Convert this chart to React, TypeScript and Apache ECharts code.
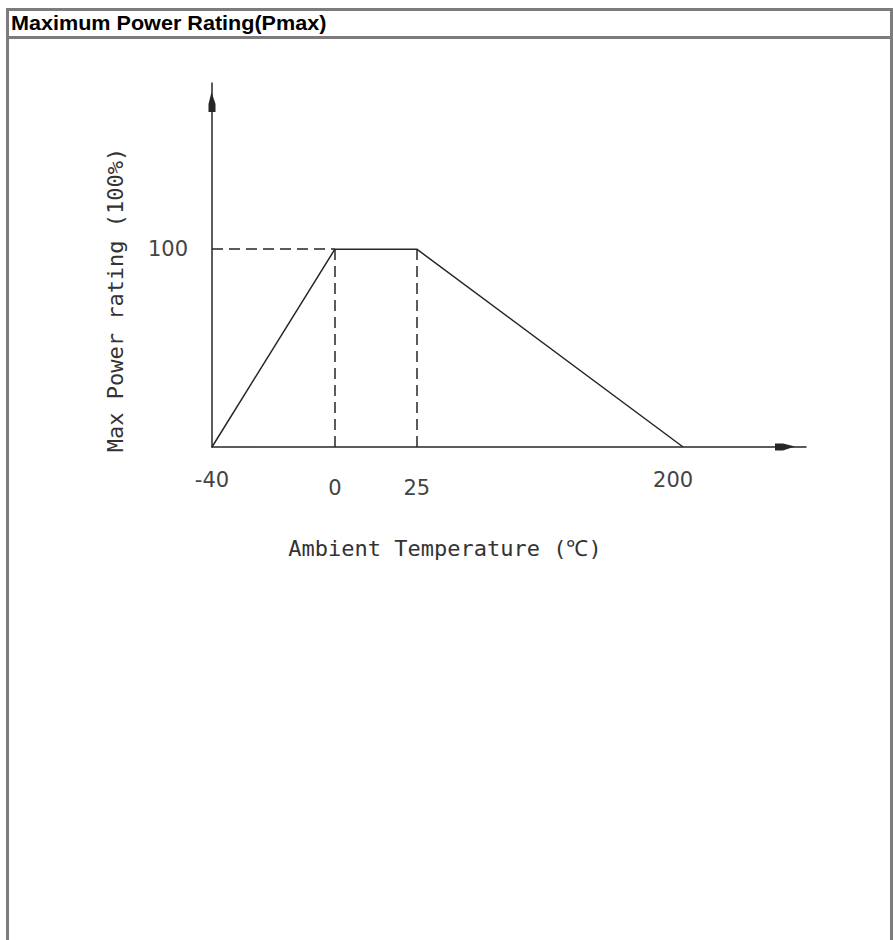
import React, { useEffect, useRef } from 'react';
import * as echarts from 'echarts';

const TITLE = 'Maximum Power Rating(Pmax)';
const X_NAME = 'Ambient Temperature (℃)';
const Y_NAME = 'Max Power rating (100%)';

// Schematic temperature axis (drawing is not to scale): blank slots keep the spacing of the original.
const temperatureTicks = [
  '-40', '', '', '', '', '',
  '0', '', '', '',
  '25', '', '', '', '', '', '', '', '', '', '', '', '',
  '200', '', '', '', '', '', '',
];

// Derating curve
const curveTemps = ['-40', '0', '25', '200'];
const curvePower = [0, 100, 100, 0];

// Dashed guide lines: [fromTemp, fromPower, toTemp, toPower]
const guideFromTemps = ['-40', '0', '25'];
const guideFromPower = [100, 0, 0];
const guideToTemps = ['0', '0', '25'];
const guideToPower = [100, 100, 100];

const yTicks = [100];
const yMax = 184;

const LINE = '#262626';
const LABEL = '#444';
const BORDER = '#7c7c7c';
const ARROW = 'path://M3,0 L7,12 L7,20 L0,20 L0,12 Z';

const idx = (t: string) => temperatureTicks.indexOf(t);

export default function App() {
  const ref = useRef<HTMLDivElement>(null);
  useEffect(() => {
    if (!ref.current) return;
    const chart = echarts.init(ref.current, null, { renderer: 'svg' });
    const labelFont = { fontFamily: 'DejaVu Sans', fontSize: 21, color: LABEL };
    chart.setOption({
      animation: false,
      backgroundColor: '#fff',
      grid: { left: 212, right: 87, top: 83, bottom: 493, containLabel: false },
      xAxis: {
        type: 'category',
        data: temperatureTicks,
        boundaryGap: false,
        name: X_NAME,
        nameLocation: 'middle',
        nameGap: 90,
        nameTextStyle: {
          fontFamily: 'DejaVu Sans Mono',
          fontSize: 22,
          color: '#333',
          padding: [0, 128, 0, 0],
        },
        axisLine: {
          show: true,
          symbol: ['none', ARROW],
          symbolSize: [7, 20],
          symbolOffset: [0, -21],
          lineStyle: { color: LINE, width: 1.5 },
        },
        axisTick: { show: false },
        splitLine: { show: false },
        axisLabel: {
          interval: 0,
          margin: 22,
          formatter: (v: string) =>
            v === '0' || v === '25' ? `{low|${v}}` : v === '200' ? `{left|${v}}` : v ? `{base|${v}}` : '',
          rich: {
            base: { ...labelFont },
            low: { ...labelFont, padding: [8, 0, 0, 0] },
            left: { ...labelFont, padding: [0, 20, 0, 0] },
          },
        },
      },
      yAxis: {
        type: 'value',
        min: 0,
        max: yMax,
        interval: yTicks[0],
        name: Y_NAME,
        nameLocation: 'middle',
        nameRotate: 90,
        nameGap: 86,
        nameTextStyle: {
          fontFamily: 'DejaVu Sans Mono',
          fontSize: 22,
          color: '#333',
          padding: [0, 70, 0, 0],
        },
        axisLine: {
          show: true,
          symbol: ['none', ARROW],
          symbolSize: [7, 20],
          symbolOffset: [0, -19],
          lineStyle: { color: LINE, width: 1.5 },
        },
        axisTick: { show: false },
        splitLine: { show: false },
        axisLabel: {
          margin: 24,
          showMinLabel: false,
          formatter: (v: number) => (yTicks.includes(v) ? String(v) : ''),
          ...labelFont,
        },
      },
      series: [
        {
          type: 'line',
          data: curveTemps.map((t, i) => [idx(t), curvePower[i]]),
          symbol: 'none',
          lineStyle: { color: LINE, width: 1.5 },
          silent: true,
          markLine: {
            silent: true,
            symbol: ['none', 'none'],
            label: { show: false },
            lineStyle: { color: LINE, width: 1.5, type: [11, 6] },
            data: guideFromTemps.map((t, i) => [
              { coord: [idx(t), guideFromPower[i]] },
              { coord: [idx(guideToTemps[i]), guideToPower[i]] },
            ]),
          },
        },
      ],
      graphic: [
        { type: 'rect', shape: { x: 6, y: 8, width: 887, height: 3 }, style: { fill: BORDER } },
        { type: 'rect', shape: { x: 6, y: 8, width: 3, height: 940 }, style: { fill: BORDER } },
        { type: 'rect', shape: { x: 890, y: 8, width: 3, height: 940 }, style: { fill: BORDER } },
        { type: 'rect', shape: { x: 6, y: 36, width: 887, height: 3 }, style: { fill: BORDER } },
        {
          type: 'text',
          x: 11,
          y: 13,
          scaleX: 1.08,
          style: {
            text: TITLE,
            font: 'bold 20px "Liberation Sans", Arial, sans-serif',
            fill: '#000',
            verticalAlign: 'top',
          },
        },
      ],
    });
    return () => chart.dispose();
  }, []);
  return <div ref={ref} style={{ position: 'absolute', left: 0, top: 0, width: 893, height: 940 }} />;
}
